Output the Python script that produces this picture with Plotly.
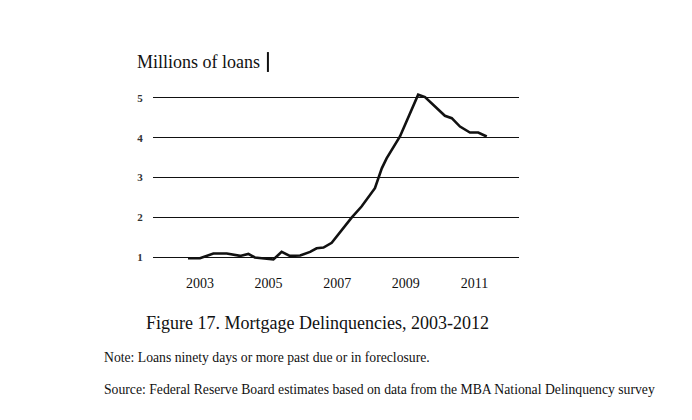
import plotly.graph_objects as go

# Mortgage delinquencies, millions of loans
years = [2002.65, 2003.0, 2003.39, 2003.78, 2004.17, 2004.41, 2004.6, 2005.14,
         2005.38, 2005.62, 2005.92, 2006.21, 2006.4, 2006.6, 2006.84, 2007.42,
         2007.71, 2008.1, 2008.3, 2008.44, 2008.83, 2009.36, 2009.56, 2010.14,
         2010.34, 2010.58, 2010.87, 2011.11, 2011.36]
loans = [0.97, 0.97, 1.09, 1.09, 1.03, 1.08, 0.99, 0.94,
         1.13, 1.03, 1.04, 1.13, 1.22, 1.24, 1.36, 1.99,
         2.27, 2.73, 3.23, 3.48, 4.03, 5.08, 5.02, 4.55,
         4.49, 4.28, 4.13, 4.13, 4.03]

x_ticks = [2003, 2005, 2007, 2009, 2011]
y_ticks = [1, 2, 3, 4, 5]

title = "Figure 17. Mortgage Delinquencies, 2003-2012"
note = "Note: Loans ninety days or more past due or in foreclosure."
source = "Source: Federal Reserve Board estimates based on data from the MBA National Delinquency survey"

serif = "Liberation Serif, Times New Roman, serif"

fig = go.Figure(go.Scatter(
    x=years, y=loans,
    mode="lines",
    line=dict(color="#111111", width=2.6),
    hoverinfo="skip",
))

fig.update_xaxes(
    range=[2001.63, 2012.3],
    tickmode="array",
    tickvals=x_ticks,
    ticktext=[str(t) for t in x_ticks],
    showgrid=False, zeroline=False, showline=False,
    ticks="", ticklen=0,
    tickfont=dict(family=serif, size=14, color="#111111"),
)
fig.update_yaxes(
    range=[0.6, 5.5],
    tickmode="array",
    tickvals=y_ticks,
    ticktext=[f"<b>{t}</b>" for t in y_ticks],
    showgrid=True, gridcolor="#111111", gridwidth=1.4,
    zeroline=False, showline=False,
    ticks="outside", ticklen=7, tickcolor="white",
    tickfont=dict(family=serif, size=11, color="#333333"),
)

fig.add_annotation(text="Millions of loans", xref="paper", yref="paper",
                   x=-0.048, y=1.082, xanchor="left", yanchor="middle",
                   showarrow=False, font=dict(family=serif, size=18, color="#111111"))
# the little vertical bar after the axis title
fig.add_shape(type="line", xref="paper", yref="paper",
              x0=0.314, x1=0.314, y0=1.031, y1=1.133,
              line=dict(color="#111111", width=2))
fig.add_annotation(text=title, xref="paper", yref="paper",
                   x=0.45, y=0, yshift=-50, xanchor="center", yanchor="middle",
                   showarrow=False, font=dict(family=serif, size=18, color="#111111"))
fig.add_annotation(text=note, xref="paper", yref="paper",
                   x=-0.138, y=0, yshift=-84, xanchor="left", yanchor="middle",
                   showarrow=False, font=dict(family=serif, size=13.7, color="#111111"))
fig.add_annotation(text=source, xref="paper", yref="paper",
                   x=-0.138, y=0, yshift=-116, xanchor="left", yanchor="middle",
                   showarrow=False, font=dict(family=serif, size=13.7, color="#111111"))

fig.update_layout(
    width=692, height=420,
    margin=dict(l=145, r=181, t=70, b=155),
    paper_bgcolor="white", plot_bgcolor="white",
    showlegend=False,
)

fig.write_html("out.html")
